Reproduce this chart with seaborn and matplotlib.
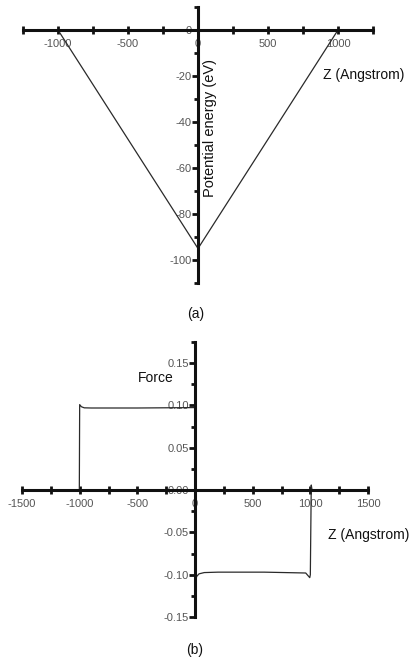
import matplotlib
matplotlib.use("Agg")
import matplotlib.pyplot as plt
import matplotlib.ticker as mticker
import pandas as pd
import seaborn as sns

# (a) potential energy well
energy_z = [-1000, 0, 1000]
energy_ev = [0, -95, 0]

# (b) force along z
force_z = [-1500, -1003, -1000, -985, -960, -900, -500, -2, 2, 15, 35, 80, 200, 600, 960, 995, 1000, 1008, 1015, 1500]
force_val = [0.0, 0.0, 0.101, 0.0985, 0.0972, 0.097, 0.097, 0.0975,
             -0.108, -0.102, -0.099, -0.0975, -0.097, -0.097, -0.098, -0.1035, -0.1, 0.006, 0.0, 0.0]

W, H = 409, 662
INK = "#111111"
TICKC = "#555555"

sns.set_theme(style="white")
plt.rcParams["font.family"] = ["Liberation Sans", "DejaVu Sans"]

fig = plt.figure(figsize=(W / 100, H / 100), dpi=100)
fig.patch.set_facecolor("white")


def px_axes(x0, y0, x1, y1):
    return fig.add_axes([x0 / W, 1 - y1 / H, (x1 - x0) / W, (y1 - y0) / H])


def style_axes(ax):
    for side in ("top", "right"):
        ax.spines[side].set_visible(False)
    ax.spines["left"].set_position(("data", 0))
    ax.spines["bottom"].set_position(("data", 0))
    for side in ("left", "bottom"):
        ax.spines[side].set_linewidth(2.2)
        ax.spines[side].set_color(INK)
    ax.set_facecolor("none")
    ax.tick_params(axis="x", which="both", bottom=True, top=False, direction="inout",
                   color=INK, width=2.0, labelsize=8, labelcolor=TICKC, pad=3.5)
    ax.tick_params(axis="x", which="major", length=6)
    ax.tick_params(axis="x", which="minor", length=6)
    ax.tick_params(axis="y", which="both", left=True, right=False, direction="out",
                   color=INK, width=2.0, labelsize=8, labelcolor=TICKC, pad=0.5)
    ax.tick_params(axis="y", which="major", length=4)
    ax.tick_params(axis="y", which="minor", length=3)
    ax.set_xlabel("")
    ax.set_ylabel("")
    ax.grid(False)


# ---- panel (a)
ax1 = px_axes(23, 7, 373, 283)
df_e = pd.DataFrame({"z": energy_z, "e": energy_ev})
sns.lineplot(data=df_e, x="z", y="e", ax=ax1, color="#2a2a2a", linewidth=0.9,
             sort=False, estimator=None)
ax1.set_xlim(-1250, 1250)
ax1.set_ylim(-110, 10)
ax1.xaxis.set_major_locator(mticker.MultipleLocator(500))
ax1.xaxis.set_minor_locator(mticker.MultipleLocator(250))
ax1.yaxis.set_major_locator(mticker.MultipleLocator(20))
ax1.yaxis.set_minor_locator(mticker.MultipleLocator(10))
ax1.xaxis.set_major_formatter(mticker.FuncFormatter(lambda v, p: f"{v:.0f}"))
ax1.yaxis.set_major_formatter(mticker.FuncFormatter(lambda v, p: f"{v:.0f}"))
style_axes(ax1)

# ---- panel (b)
ax2 = px_axes(22, 342, 368, 617)
df_f = pd.DataFrame({"z": force_z, "f": force_val})
sns.lineplot(data=df_f, x="z", y="f", ax=ax2, color="#2a2a2a", linewidth=0.9,
             sort=False, estimator=None)
ax2.set_xlim(-1500, 1500)
ax2.set_ylim(-0.15, 0.175)
ax2.xaxis.set_major_locator(mticker.MultipleLocator(500))
ax2.xaxis.set_minor_locator(mticker.MultipleLocator(250))
ax2.yaxis.set_major_locator(mticker.MultipleLocator(0.05))
ax2.yaxis.set_minor_locator(mticker.MultipleLocator(0.025))
ax2.xaxis.set_major_formatter(mticker.FuncFormatter(lambda v, p: f"{v:.0f}"))
ax2.yaxis.set_major_formatter(mticker.FuncFormatter(lambda v, p: f"{v:.2f}"))
style_axes(ax2)


def ftext(x, y, s, **kw):
    fig.text(x / W, 1 - y / H, s, color=INK, **kw)


ftext(323, 75, "Z (Angstrom)", ha="left", va="center", fontsize=10)
ftext(210, 128, "Potential energy (eV)", ha="center", va="center", fontsize=10.5, rotation=90)
ftext(196, 314, "(a)", ha="center", va="center", fontsize=10)
ftext(138, 378, "Force", ha="left", va="center", fontsize=10)
ftext(328, 535, "Z (Angstrom)", ha="left", va="center", fontsize=10)
ftext(195, 650, "(b)", ha="center", va="center", fontsize=10)

fig.savefig("out.png", dpi=100, facecolor="white")
